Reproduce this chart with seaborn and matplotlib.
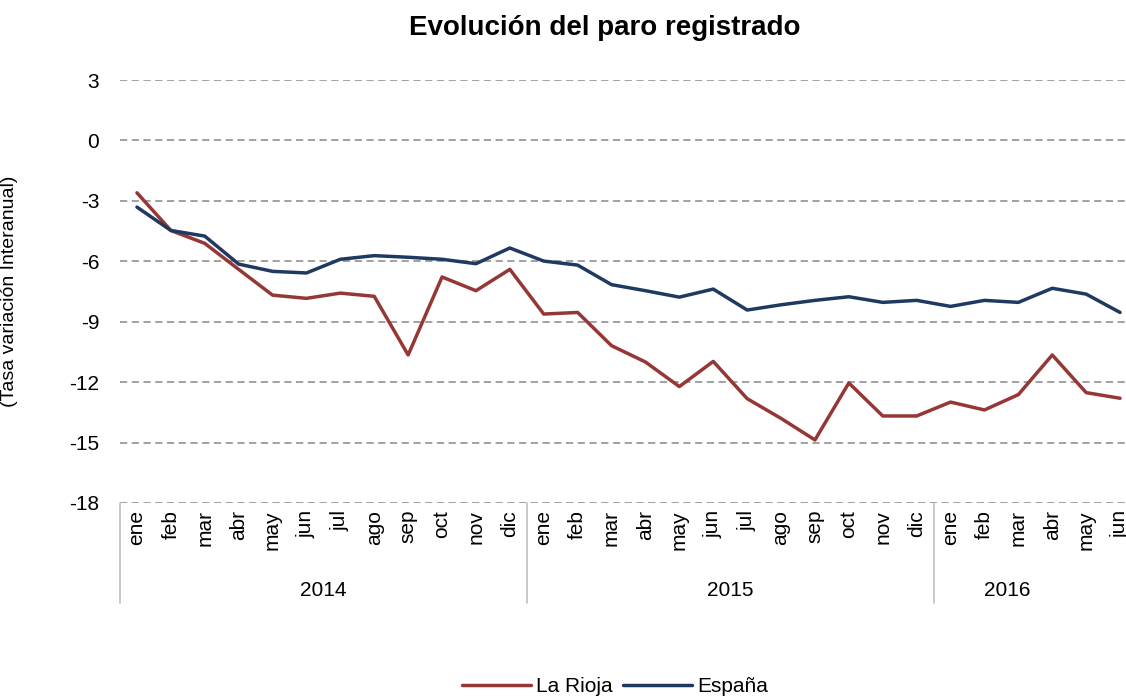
import numpy as np
import pandas as pd
import matplotlib
matplotlib.use("Agg")
import matplotlib.pyplot as plt
import matplotlib.transforms as mtransforms
import seaborn as sns

# datos: tasa de variacion interanual del paro registrado
meses = ["ene", "feb", "mar", "abr", "may", "jun", "jul", "ago", "sep", "oct", "nov", "dic",
         "ene", "feb", "mar", "abr", "may", "jun", "jul", "ago", "sep", "oct", "nov", "dic",
         "ene", "feb", "mar", "abr", "may", "jun"]
anios = ["2014", "2015", "2016"]

la_rioja = [-2.6, -4.47, -5.11, -6.4, -7.68, -7.84, -7.58, -7.74, -10.65, -6.78, -7.46, -6.4,
            -8.62, -8.54, -10.19, -11.0, -12.22, -10.97, -12.82, -13.8, -14.87, -12.04, -13.68, -13.68,
            -12.99, -13.38, -12.62, -10.65, -12.52, -12.8]
espana = [-3.31, -4.47, -4.75, -6.14, -6.5, -6.58, -5.9, -5.72, -5.8, -5.9, -6.12, -5.34,
          -5.99, -6.19, -7.16, -7.46, -7.78, -7.38, -8.42, -8.16, -7.94, -7.76, -8.04, -7.94,
          -8.24, -7.94, -8.04, -7.34, -7.63, -8.54]

df = pd.DataFrame({
    "mes": list(range(len(meses))) * 2,
    "valor": la_rioja + espana,
    "serie": ["La Rioja"] * len(meses) + ["España"] * len(meses),
})

sns.set_style("white")
plt.rcParams["font.family"] = ["Liberation Sans", "DejaVu Sans"]
plt.rcParams["axes.unicode_minus"] = False
plt.rcParams["text.color"] = "black"
plt.rcParams["xtick.color"] = "black"
plt.rcParams["ytick.color"] = "black"
plt.rcParams["axes.labelcolor"] = "black"

fig = plt.figure(figsize=(11.26, 7), dpi=100)
ax = fig.add_axes([120 / 1126, 1 - 503 / 700, 1017 / 1126, 423 / 700])

colores = {"La Rioja": "#953735", "España": "#1F3A60"}
sns.lineplot(data=df, x="mes", y="valor", hue="serie", palette=colores, linewidth=2.5,
             ax=ax, legend=False)

# ejes
ax.set_ylim(-18, 3)
ax.set_xlim(-0.5, len(meses) - 0.5)
ax.set_yticks(np.arange(-18, 4, 3))
ax.set_yticklabels([str(v) for v in np.arange(-18, 4, 3)], fontsize=15)
ax.yaxis.grid(True, linestyle=(0, (4, 2.5)), color="#9a9a9a", linewidth=1.3)
ax.set_axisbelow(True)
for s in ax.spines.values():
    s.set_visible(False)
ax.tick_params(axis="y", length=0, pad=15)
ax.tick_params(axis="x", length=0, pad=5)
ax.set_xticks(range(len(meses)))
ax.set_xticklabels(meses, rotation=90, fontsize=15, va="top")
ax.set_xlabel("")
ax.set_ylabel("(Tasa variación Interanual)", fontsize=14)
ax.yaxis.set_label_coords(-102 / 1017, 0.5)

# separadores y etiquetas de anio
trans = mtransforms.blended_transform_factory(ax.transData, ax.transAxes)
for xb in [-0.5, 11.5, 23.5]:
    ax.plot([xb, xb], [0, -100 / 423], transform=trans, color="#bfbfbf", linewidth=1.2,
            clip_on=False)
for xa, lab in zip([5.5, 17.5, 25.66], anios):
    ax.text(xa, -87 / 423, lab, transform=trans, ha="center", va="center", fontsize=15)

fig.text(605 / 1126, 1 - 28 / 700, "Evolución del paro registrado", ha="center", va="center",
         fontsize=20, fontweight="bold")

handles = [plt.Line2D([], [], color=colores[k], linewidth=2.5) for k in ["La Rioja", "España"]]
fig.legend(handles, ["La Rioja", "España"], loc="center", bbox_to_anchor=(615 / 1126, 1 - 687 / 700),
           ncol=2, frameon=False, fontsize=15, handlelength=3.3, columnspacing=0.5,
           handletextpad=0.25, borderpad=0)

fig.savefig("out.png", dpi=100)
